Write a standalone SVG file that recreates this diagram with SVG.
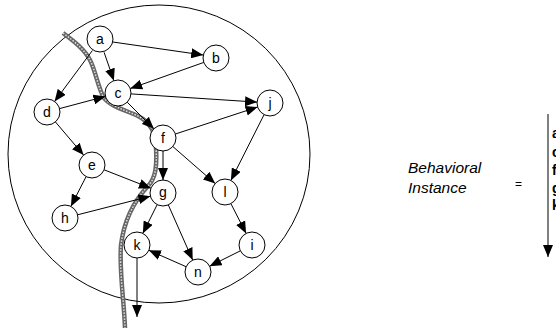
<svg xmlns="http://www.w3.org/2000/svg" width="556" height="328" viewBox="0 0 556 328">
<style>
.n circle{fill:#fff;stroke:#000;stroke-width:1}
.n text{font-family:"Liberation Sans",Arial,sans-serif;font-size:14px;text-anchor:middle;fill:#000}
.e line{stroke:#000;stroke-width:1;marker-end:url(#ah)}
.lbl{font-family:"Liberation Sans",Arial,sans-serif;font-style:italic;font-size:15.5px;fill:#000}
.seq{font-family:"Liberation Sans",Arial,sans-serif;font-weight:bold;font-size:14px;fill:#000}
.cut{fill:none}
</style>
<defs>
<marker id="ah" markerUnits="userSpaceOnUse" markerWidth="12" markerHeight="10" viewBox="0 0 12 10" refX="12" refY="5" orient="auto">
<path d="M0,0 L12,5 L0,10 Z" fill="#000"/>
</marker>
<path id="cutpath" d="M63,33 C75,42 85,50 90,60 C96,72 98,88 104,98 C110,106 125,110 138,116 C150,122 156,132 156,148 C157,165 156,178 148,186 C135,200 124,220 121,245 C119,270 124,300 125,328"/>
</defs>
<rect width="556" height="328" fill="#fff"/>
<ellipse id="boundary" cx="159" cy="154" rx="151" ry="149" fill="none" stroke="#000" stroke-width="1"/>
<g id="cut" class="cut">
<use href="#cutpath" stroke="#666" stroke-width="4.5"/>
<use href="#cutpath" stroke="#e0e0e0" stroke-width="1.5" stroke-dasharray="1.5 1.5"/>
</g>
<g id="connectors" class="e">
<line x1="112.8" y1="42" x2="203.2" y2="55"/>
<line x1="104.1" y1="52.3" x2="113.9" y2="80.7"/>
<line x1="92.4" y1="50.5" x2="54.6" y2="101.5"/>
<line x1="203.8" y1="62.4" x2="130.2" y2="88.6"/>
<line x1="59.6" y1="108.6" x2="105.4" y2="96.4"/>
<line x1="131" y1="93.9" x2="257" y2="102.1"/>
<line x1="127.2" y1="102.2" x2="153.8" y2="128.8"/>
<line x1="175.4" y1="134" x2="257.6" y2="107"/>
<line x1="163" y1="151" x2="163" y2="180"/>
<line x1="172.8" y1="146.5" x2="215.2" y2="183.5"/>
<line x1="264.1" y1="114.6" x2="230.9" y2="180.4"/>
<line x1="55.4" y1="121.9" x2="83.6" y2="155.1"/>
<line x1="104.1" y1="169.8" x2="150.9" y2="188.2"/>
<line x1="86.1" y1="176.6" x2="70.9" y2="206.4"/>
<line x1="77.6" y1="214.8" x2="150.4" y2="196.2"/>
<line x1="157.2" y1="204.6" x2="142.8" y2="233.4"/>
<line x1="168.3" y1="204.9" x2="192.7" y2="260.1"/>
<line x1="230.9" y1="203.6" x2="246.1" y2="233.4"/>
<line x1="240.4" y1="250.8" x2="209.6" y2="266.2"/>
<line x1="186.1" y1="266.7" x2="148.9" y2="250.3"/>
<line x1="137" y1="258" x2="137" y2="317"/>
<line x1="548" y1="114" x2="548" y2="257"/>
</g>
<g id="a" class="n"><circle cx="100" cy="39" r="13"/><text x="100" y="44">a</text></g>
<g id="b" class="n"><circle cx="216" cy="58" r="13"/><text x="216" y="63">b</text></g>
<g id="c" class="n"><circle cx="118" cy="93" r="13"/><text x="118" y="98">c</text></g>
<g id="d" class="n"><circle cx="47" cy="112" r="13"/><text x="47" y="117">d</text></g>
<g id="j" class="n"><circle cx="270" cy="103" r="13"/><text x="270" y="108">j</text></g>
<g id="f" class="n"><circle cx="163" cy="138" r="13"/><text x="163" y="143">f</text></g>
<g id="e" class="n"><circle cx="92" cy="165" r="13"/><text x="92" y="170">e</text></g>
<g id="g" class="n"><circle cx="163" cy="193" r="13"/><text x="163" y="197">g</text></g>
<g id="h" class="n"><circle cx="65" cy="218" r="13"/><text x="65" y="223">h</text></g>
<g id="l" class="n"><circle cx="225" cy="192" r="13"/><text x="225" y="197">l</text></g>
<g id="k" class="n"><circle cx="137" cy="245" r="13"/><text x="137" y="250">k</text></g>
<g id="i" class="n"><circle cx="252" cy="245" r="13"/><text x="252" y="250">i</text></g>
<g id="n" class="n"><circle cx="198" cy="272" r="13"/><text x="198" y="277">n</text></g>
<g id="legend">
<text class="lbl" x="408" y="173">Behavioral</text>
<text class="lbl" x="408" y="193">Instance</text>
<text x="515" y="188" font-family="Liberation Sans, Arial, sans-serif" font-size="12" fill="#000">=</text>
<text class="seq" x="552" y="138">a</text>
<text class="seq" x="552" y="157">c</text>
<text class="seq" x="552" y="175">f</text>
<text class="seq" x="552" y="193">g</text>
<text class="seq" x="552" y="210">k</text>
</g>
</svg>
